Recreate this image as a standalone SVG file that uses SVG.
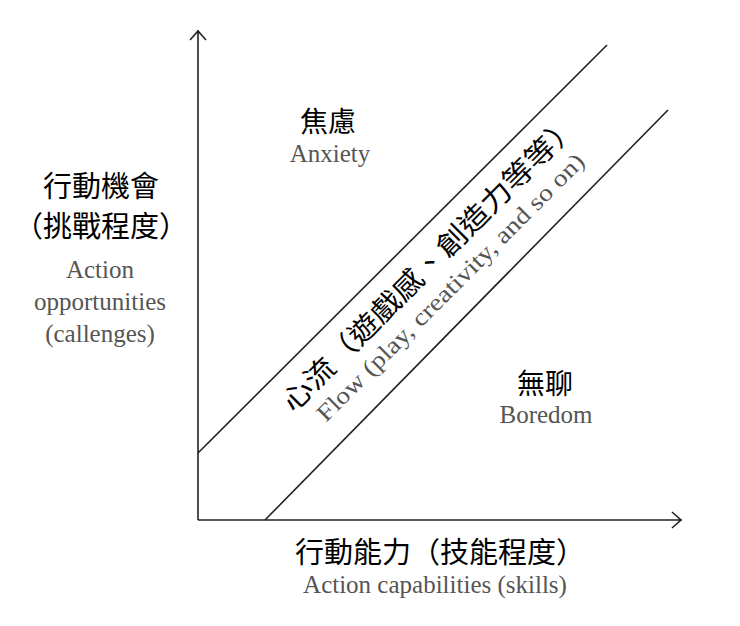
<svg xmlns="http://www.w3.org/2000/svg" width="740" height="626" viewBox="0 0 740 626">
<style>
.zh{font-family:"Noto Sans CJK TC","Noto Sans CJK SC",sans-serif;font-size:29px;fill:#000;text-anchor:middle}
.en{font-family:"Liberation Serif",serif;font-size:25px;fill:#555;text-anchor:middle}
.ln{stroke:#222;stroke-width:1.6;fill:none}
</style>
<rect width="740" height="626" fill="#fff"/>
<g id="connectors">
<path class="ln" d="M198,520 V30 M190,40 L198,31 L206,40"/>
<path class="ln" d="M198,520 H682 M672,512 L681,520 L672,528"/>
<path class="ln" d="M198,453 L607,45"/>
<path class="ln" d="M265,520 L668,110"/>
</g>
<g id="anxiety"><text class="zh" x="328" y="132" style="font-size:28px">焦慮</text><text class="en" x="330" y="162">Anxiety</text></g>
<g id="boredom"><text class="zh" x="545" y="394" style="font-size:28px">無聊</text><text class="en" x="546" y="423">Boredom</text></g>
<g id="yaxis"><text class="zh" x="101" y="197">行動機會</text><text class="zh" x="101" y="237">（挑戰程度）</text>
<text class="en" x="100" y="278">Action</text><text class="en" x="100" y="310">opportunities</text><text class="en" x="100" y="342">(callenges)</text></g>
<g id="xaxis"><text class="zh" x="440" y="563">行動能力（技能程度）</text><text class="en" x="435" y="593">Action capabilities (skills)</text></g>
<g id="flow">
<text class="zh" transform="translate(437,270) rotate(-45)" style="font-size:28px" textLength="405" lengthAdjust="spacingAndGlyphs">心流（遊戲感、創造力等等）</text>
<text class="en" transform="translate(456,293) rotate(-45)" style="font-size:24px" textLength="368" lengthAdjust="spacingAndGlyphs">Flow (play, creativity, and so on)</text>
</g>
</svg>
